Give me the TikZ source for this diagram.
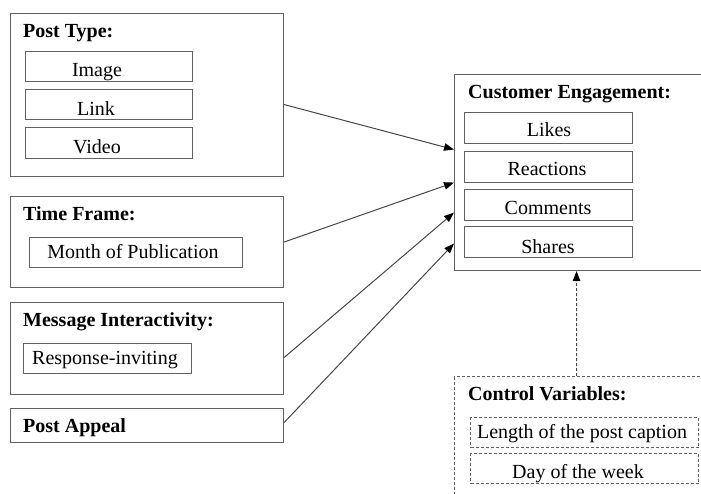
\documentclass[tikz,border=0pt]{standalone}
\usepackage{fontspec}
\setmainfont{Liberation Serif}
\usetikzlibrary{arrows.meta}
\begin{document}
\begin{tikzpicture}[x=1pt,y=-1pt,
  frame/.style={draw=black!62, line width=1.1pt, anchor=north west, inner sep=0pt, minimum width=273pt},
  item/.style={draw=black!62, line width=1pt, anchor=north west, inner sep=0pt},
  dashframe/.style={draw=black!62, line width=1pt, anchor=north west, inner sep=0pt, dash pattern=on 3pt off 2pt},
  title/.style={anchor=base west, inner sep=0pt, font=\fontsize{20}{24}\selectfont\bfseries},
  lab/.style={anchor=base, inner sep=0pt, font=\fontsize{20}{24}\selectfont},
  link/.style={draw=black!72, line width=1pt, -{Triangle[length=10pt,width=7.5pt,color=black,fill=black]}}
]
\clip (0,0) rectangle (701,493);
\useasboundingbox (0,0) rectangle (701,493);

% independent variables
\node[frame, minimum height=163pt] (ptype) at (10,13) {};
\node[title] (ptypeT) at (23,37) {Post Type:};
\node[item, minimum width=167pt, minimum height=30pt] (img) at (25,51) {};
\node[item, minimum width=167pt, minimum height=30pt] (lnk) at (25,89) {};
\node[item, minimum width=167pt, minimum height=31pt] (vid) at (25,127) {};
\node[lab] (imgT) at (97,76) {Image};
\node[lab] (lnkT) at (96,115) {Link};
\node[lab] (vidT) at (97,153) {Video};

\node[frame, minimum height=91pt] (tf) at (10,196) {};
\node[title] (tfT) at (23,220) {Time Frame:};
\node[item, minimum width=213pt, minimum height=30pt] (month) at (29,237) {};
\node[lab] (monthT) at (133,258) {Month of Publication};

\node[frame, minimum height=92pt] (mi) at (10,302) {};
\node[title] (miT) at (23,326) {Message Interactivity:};
\node[item, minimum width=168pt, minimum height=30pt] (resp) at (23,343) {};
\node[lab] (respT) at (105,364) {Response-inviting};

\node[frame, minimum height=34pt] (pa) at (10,408) {};
\node[title] (paT) at (23,432) {Post Appeal};

% dependent variable
\node[frame, minimum width=260pt, minimum height=196pt] (ce) at (454,74) {};
\node[title] (ceT) at (468,98) {Customer Engagement:};
\node[item, minimum width=168pt, minimum height=31pt] (likes) at (464,112) {};
\node[item, minimum width=168pt, minimum height=31pt] (reac) at (464,151) {};
\node[item, minimum width=168pt, minimum height=31pt] (comm) at (464,189) {};
\node[item, minimum width=168pt, minimum height=31pt] (shares) at (464,226) {};
\node[lab] (likesT) at (549,136) {Likes};
\node[lab] (reacT) at (547,175) {Reactions};
\node[lab] (commT) at (548,214) {Comments};
\node[lab] (sharesT) at (548,253) {Shares};

% control variables
\node[dashframe, minimum width=260pt, minimum height=140pt] (cv) at (454,376) {};
\node[title] (cvT) at (468,400) {Control Variables:};
\node[dashframe, minimum width=228pt, minimum height=30pt] (len) at (470,417) {};
\node[dashframe, minimum width=228pt, minimum height=30pt] (day) at (470,453) {};
\node[lab] (lenT) at (582,438) {Length of the post caption};
\node[lab] (dayT) at (578,478) {Day of the week};

% effects
\draw[link] ([yshift=-9.5pt]ptype.east) -- ([yshift=23pt]ce.west);
\draw[link] (tf.east) -- ([yshift=-10pt]ce.west);
\draw[link] ([yshift=-9pt]mi.east) -- ([yshift=-40pt]ce.west);
\draw[link] ([yshift=3pt]pa.east) -- ([yshift=-71pt]ce.west);
\draw[link, dash pattern=on 3pt off 2pt] ([xshift=-8pt]cv.north) -- ([xshift=-8pt]ce.south);
\end{tikzpicture}
\end{document}
